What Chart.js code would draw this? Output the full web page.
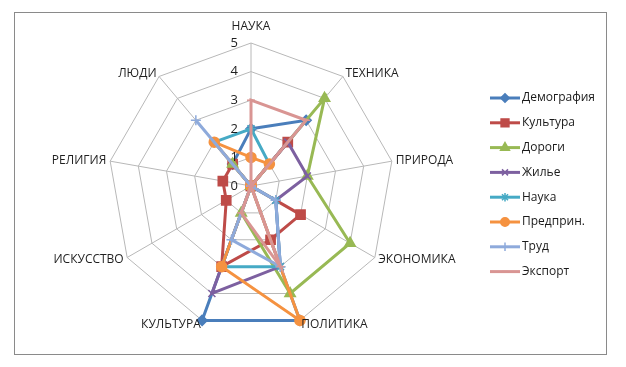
<!DOCTYPE html>
<html>
<head>
<meta charset="utf-8">
<script src="https://cdn.jsdelivr.net/npm/chart.js@4.4.1/dist/chart.umd.min.js"></script>
<style>
  html, body { margin: 0; padding: 0; background: #fff; }
  #wrap { position: relative; width: 626px; height: 367px; }
  #frame { position: absolute; left: 14px; top: 12px; width: 591px; height: 341px; border: 1.5px solid #8a8a8a; }
  canvas { position: absolute; left: 0; top: 0; }
</style>
</head>
<body>
<div id="wrap">
  <div id="frame"></div>
  <canvas id="chart" width="626" height="367"></canvas>
</div>
<script>
const labels = ["НАУКА", "ТЕХНИКА", "ПРИРОДА", "ЭКОНОМИКА", "ПОЛИТИКА", "КУЛЬТУРА", "ИСКУССТВО", "РЕЛИГИЯ", "ЛЮДИ"];
const tickValues = [0, 1, 2, 3, 4, 5];

const demografiya = [2, 3, 0, 0, 5, 5, 0, 0, 1];
const kultura     = [0, 2, 0, 2, 2, 3, 1, 1, 1];
const dorogi      = [0, 4, 2, 4, 4, 1, 0, 0, 1];
const zhilye      = [0, 2, 2, 1, 3, 4, 0, 0, 0];
const nauka       = [2, 1, 0, 1, 3, 3, 0, 0, 2];
const predprin    = [1, 1, 0, 0, 5, 3, 0, 0, 2];
const trud        = [0, 0, 0, 1, 3, 2, 0, 0, 3];
const eksport     = [3, 3, 0, 0, 3, 1, 0, 0, 0];

const series = [
  { label: "Демография", data: demografiya, color: "#4a7ebb", style: "rectRot", r: 5 },
  { label: "Культура",   data: kultura,     color: "#be4b48", style: "rect", r: 6.5 },
  { label: "Дороги",     data: dorogi,      color: "#98b954", style: "triangle", r: 6 },
  { label: "Жилье",      data: zhilye,      color: "#7d60a0", style: "crossRot", r: 5 },
  { label: "Наука",      data: nauka,       color: "#46aac5", style: "star", r: 5 },
  { label: "Предприн.",  data: predprin,    color: "#f59240", style: "circle", r: 5 },
  { label: "Труд",       data: trud,        color: "#8eaadb", style: "cross", r: 5 },
  { label: "Экспорт",    data: eksport,     color: "#d99593", style: "line", r: 4 }
];

const FONT = "'Open Sans', 'DejaVu Sans', sans-serif";

// axis names, tick numbers and the legend, placed from the radial scale
const extras = {
  id: "extras",
  afterDraw(chart) {
    const ctx = chart.ctx;
    const scale = chart.scales.r;
    ctx.save();
    ctx.fillStyle = "#1f1f1f";
    ctx.font = "12px " + FONT;
    labels.forEach((name, i) => {
      const a = scale.getIndexAngle(i);
      const p = scale.getPointPosition(i, scale.drawingArea + 4);
      const s = Math.sin(a);
      ctx.textBaseline = "middle";
      if (Math.abs(s) < 0.01) {
        ctx.textAlign = "center";
        ctx.fillText(name, p.x, p.y - 12);
      } else {
        ctx.textAlign = s > 0 ? "left" : "right";
        ctx.fillText(name, p.x, p.y);
      }
    });

    ctx.font = "13px " + FONT;
    ctx.textAlign = "right";
    ctx.textBaseline = "middle";
    tickValues.forEach(v => {
      const y = scale.yCenter - scale.getDistanceFromCenterForValue(v);
      ctx.fillText(String(v), scale.xCenter - 13, y);
    });

    ctx.font = "12px " + FONT;
    ctx.textAlign = "left";
    chart.data.datasets.forEach((ds, i) => {
      const y = 98 + i * 24.8;
      ctx.strokeStyle = ds.borderColor;
      ctx.lineWidth = 3;
      ctx.beginPath();
      ctx.moveTo(490, y);
      ctx.lineTo(520, y);
      ctx.stroke();
      ctx.fillStyle = ds.pointBackgroundColor;
      ctx.lineWidth = 1.5;
      Chart.helpers.drawPoint(ctx, { pointStyle: ds.pointStyle, radius: ds.pointRadius * 0.85, borderWidth: 1.5, rotation: 0 }, 505, y);
      ctx.fillStyle = "#1a1a1a";
      ctx.fillText(ds.label, 522, y);
    });
    ctx.restore();
  }
};

new Chart(document.getElementById("chart"), {
  type: "radar",
  data: {
    labels: labels,
    datasets: series.map((s, i) => ({
      label: s.label,
      data: s.data,
      borderColor: s.color,
      backgroundColor: s.color,
      pointBackgroundColor: s.color,
      pointBorderColor: s.color,
      pointStyle: s.style,
      pointRadius: s.r,
      pointBorderWidth: 1.5,
      borderWidth: 3,
      fill: false,
      tension: 0,
      order: series.length - i
    }))
  },
  options: {
    responsive: false,
    animation: false,
    layout: { padding: { left: 108, right: 232, top: 43, bottom: 38 } },
    plugins: {
      legend: { display: false },
      tooltip: { enabled: false }
    },
    scales: {
      r: {
        min: 0,
        max: 5,
        ticks: { display: false, stepSize: 1 },
        pointLabels: { display: false },
        grid: { color: "#b8b8b8", lineWidth: 1 },
        angleLines: { color: "#b8b8b8", lineWidth: 1 }
      }
    }
  },
  plugins: [extras]
});
</script>
</body>
</html>
